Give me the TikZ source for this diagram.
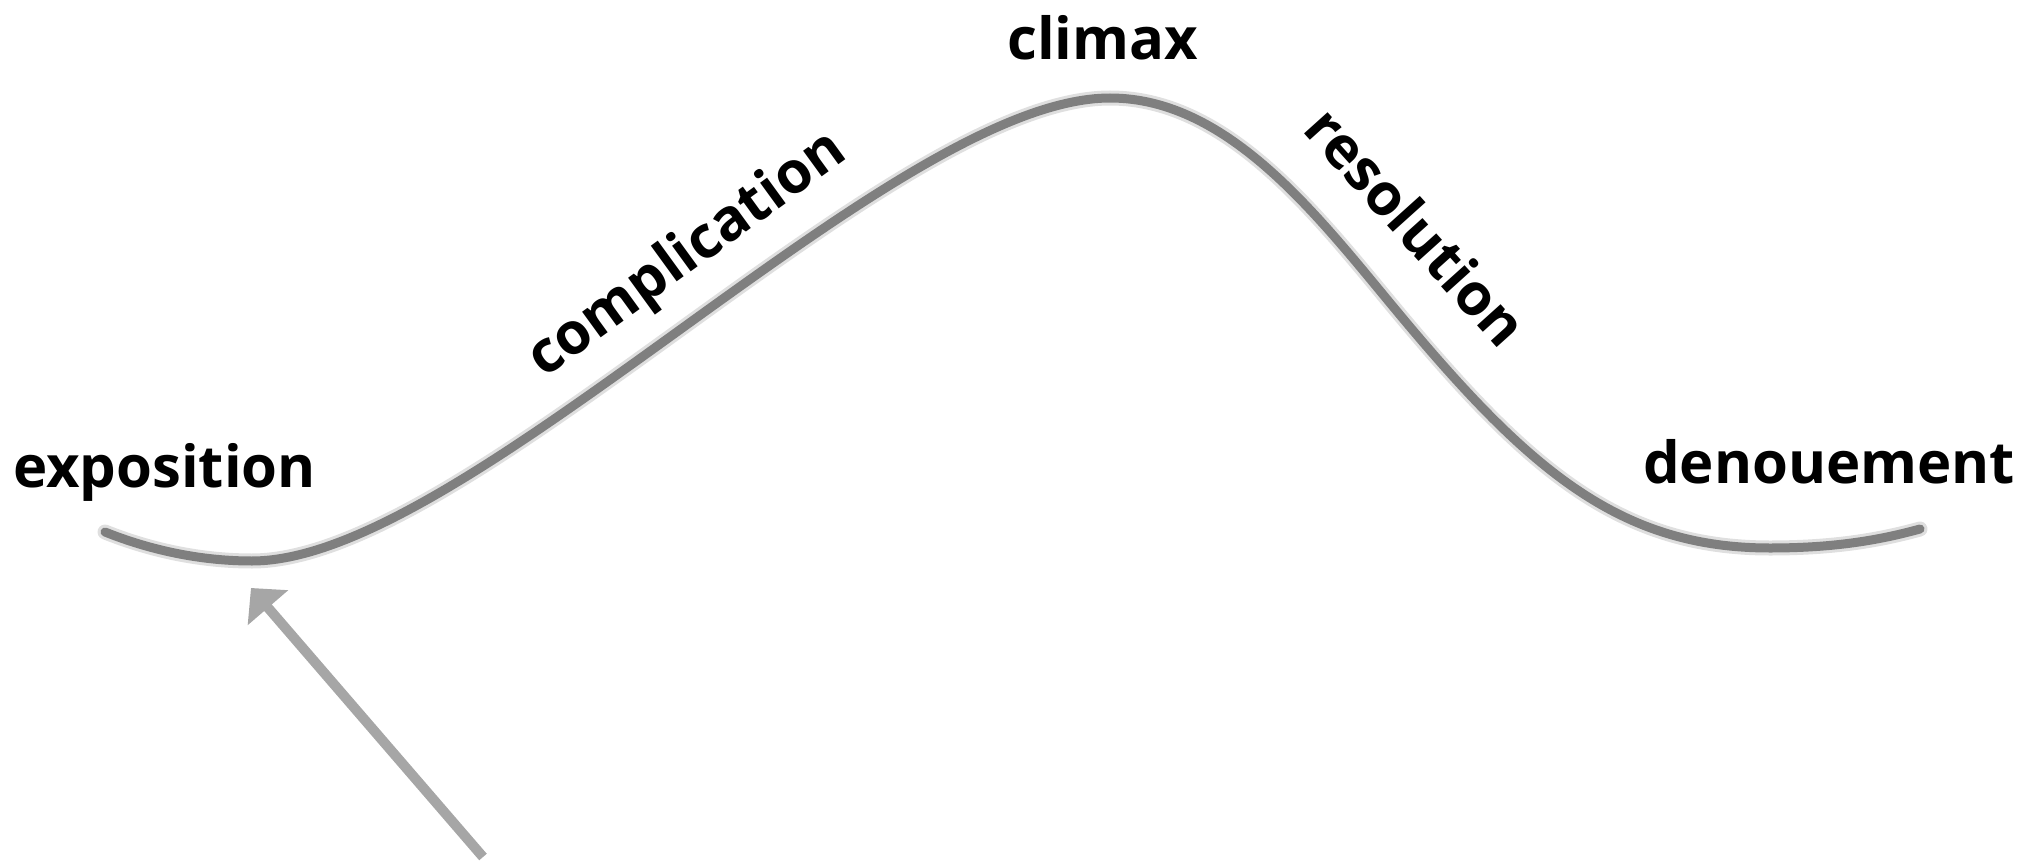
\documentclass[tikz,border=0pt]{standalone}
\usepackage{fontspec}
\setmainfont{Open Sans}
\usetikzlibrary{arrows.meta}
\definecolor{curvegray}{HTML}{7F7F7F}
\definecolor{arrowgray}{HTML}{A6A6A6}
\tikzset{
  lbl/.style={font=\bfseries\fontsize{58}{70}\selectfont, text=black, inner sep=0pt},
  plotline/.style={draw=curvegray, line width=9pt, line cap=round},
  plotblur/.style={draw=curvegray!25, line width=15pt, line cap=round},
  pointer/.style={draw=arrowgray, line width=10pt, -{Triangle[length=26pt,width=52pt]}},
}
\begin{document}
\begin{tikzpicture}[x=1pt,y=-1pt]
\useasboundingbox (0,0) rectangle (2034,861);
\coordinate (start) at (105,532);
\coordinate (lowleft) at (252,561);
\coordinate (peak) at (1110,98);
\coordinate (infl) at (1400,315);
\coordinate (lowright) at (1770,548);
\coordinate (finish) at (1920,529);
\foreach \st in {plotblur,plotline}{
\draw[\st] (start) .. controls (150,550) and (200,561) .. (lowleft)
  .. controls (467,561) and (893,98) .. (peak)
  .. controls (1230,98) and (1320,219) .. (infl)
  .. controls (1530,471) and (1620,548) .. (lowright)
  .. controls (1835,548) and (1880,540) .. (finish);
}
\node[lbl, anchor=base west] (expo) at (13,487) {exposition};
\node[lbl, anchor=base west] (clim) at (1007,60) {climax};
\node[lbl, anchor=base west] (deno) at (1643,483) {denouement};
\node[lbl, anchor=base, rotate=36] (comp) at (697,268) {complication};
\node[lbl, anchor=base, rotate=-48] (reso) at (1401,241) {resolution};
\coordinate (foot) at (483,857);
\coordinate (tip) at (251,588);
\draw[pointer] (foot) -- (tip);
\end{tikzpicture}
\end{document}
